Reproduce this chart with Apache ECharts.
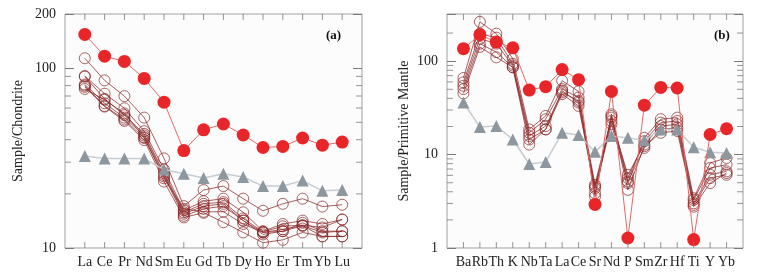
<!DOCTYPE html>
<html>
<head>
<meta charset="utf-8">
<script src="https://cdn.jsdelivr.net/npm/echarts@6/dist/echarts.min.js"></script>
<style>
  html, body { margin: 0; padding: 0; background: #fff; }
  #chart { width: 779px; height: 279px; }
</style>
</head>
<body>
<div id="chart"></div>
<script>
// (a) chondrite-normalised REE
const reeCats = ["La", "Ce", "Pr", "Nd", "Sm", "Eu", "Gd", "Tb", "Dy", "Ho", "Er", "Tm", "Yb", "Lu"];
const reeRed = [154, 116.5, 109, 87.7, 64.7, 34.8, 45.4, 48.9, 42.5, 36.2, 36.7, 40.9, 37.3, 38.8];
const reeGray = [32.5, 31.4, 31.4, 31.4, 27.3, 25.9, 24.5, 25.9, 24.8, 22.1, 22.1, 23.7, 20.8, 21.0];
const reeOpen = [
  [113.5, 85.5, 69.9, 53.1, 31.5, 17.1, 21.0, 22.1, 18.8, 16.1, 17.6, 18.8, 17.0, 17.4],
  [90.4, 72.1, 59.8, 44.6, 27.3, 16.2, 18.2, 18.8, 15.8, 12.4, 13.6, 14.2, 13.6, 14.4],
  [89.7, 67.5, 54.8, 43.1, 26.1, 15.8, 17.6, 18.0, 14.6, 12.3, 13.2, 13.4, 13.0, 14.4],
  [81.1, 63.8, 53.1, 42.2, 25.5, 15.5, 17.1, 17.6, 14.2, 12.2, 12.7, 13.3, 12.2, 12.4],
  [80.0, 61.6, 51.8, 40.9, 25.0, 15.1, 16.5, 17.1, 14.2, 11.9, 12.4, 13.3, 11.6, 11.6],
  [78.7, 61.1, 50.9, 39.8, 23.4, 14.8, 15.7, 13.9, 12.2, 10.7, 11.1, 12.2, 11.6, 11.6],
  [76.6, 66.7, 56.0, 41.3, 24.4, 16.5, 15.9, 15.9, 13.6, 12.2, 12.4, 13.8, 12.4, 12.4]
];
const reeMinorTicks = [20, 30, 40, 50, 60, 70, 80, 90];
const reeLabels = [10, 100, 200];
const reeRange = [10, 200];

// (b) primitive-mantle-normalised spider diagram
const spiderCats = ["Ba", "Rb", "Th", "K", "Nb", "Ta", "La", "Ce", "Sr", "Nd", "P", "Sm", "Zr", "Hf", "Ti", "Y", "Yb"];
const spiderRed = [136, 192, 160, 139, 49.1, 53.3, 81.3, 63.4, 2.93, 47.5, 1.28, 33.8, 52.4, 51.6, 1.23, 16.4, 18.9];
const spiderGray = [36.1, 19.7, 20.2, 14.5, 7.93, 8.33, 17.1, 16.2, 10.7, 15.8, 15.1, 14.2, 18.6, 18.6, 12.0, 10.6, 10.4];
const spiderOpen = [
  [66.1, 263.6, 197, 106, 18.6, 25.9, 61.8, 47.5, 3.55, 27.0, 4.95, 15.1, 23.9, 24.9, 3.41, 8.13, 9.20],
  [59.3, 197, 178.6, 93.6, 17.1, 23.9, 50.3, 40.9, 4.75, 24.9, 5.60, 13.9, 22.0, 22.9, 3.27, 7.18, 7.80],
  [54.6, 174, 154, 89.8, 15.8, 20.2, 46.3, 37.6, 4.55, 22.9, 6.08, 12.8, 20.2, 21.1, 3.01, 6.08, 6.61],
  [50.3, 154, 125, 86.1, 14.5, 18.6, 44.4, 33.2, 4.37, 21.1, 5.15, 11.8, 18.6, 19.4, 2.89, 5.60, 6.08],
  [45.2, 142, 110, 86.1, 12.8, 18.6, 48.2, 36.1, 3.86, 25.9, 4.19, 12.3, 17.1, 17.9, 2.77, 4.95, 6.34]
];
const spiderMinorTicks = [2, 3, 4, 5, 6, 7, 8, 9, 20, 30, 40, 50, 60, 70, 80, 90, 200];
const spiderLabels = [1, 10, 100];
const spiderRange = [1, 320];

const FONT = "Liberation Serif";
const TICK = "#7a7a7a";

const chart = echarts.init(document.getElementById("chart"));

// one empty slot each side so the first/last element sit one step in from the frame
function padded(cats) {
  return ["", ...cats, ""];
}

function xAxes(cats, gi) {
  return [
    {
      type: "category", gridIndex: gi, data: padded(cats), boundaryGap: false,
      axisLine: { show: false },
      axisTick: { show: false },
      axisLabel: { interval: 0, margin: 7, fontFamily: FONT, fontSize: 14, color: "#222" },
      splitLine: { show: false }
    },
    {
      type: "category", gridIndex: gi, position: "top", data: padded(cats), boundaryGap: false,
      show: false
    }
  ];
}

function yAxes(gi, range, labels, name, nameGap) {
  return [
    {
      type: "log", gridIndex: gi, min: range[0], max: range[1], logBase: 10,
      name: name, nameLocation: "middle", nameGap: nameGap,
      nameTextStyle: { fontFamily: FONT, fontSize: 14, color: "#222" },
      axisLine: { show: false },
      axisTick: { show: true, inside: true, length: 9, lineStyle: { color: TICK } },
      axisLabel: {
        margin: 9, fontFamily: FONT, fontSize: 14, color: "#222",
        formatter: function (v) {
          const r = Math.round(v);
          return labels.includes(r) && Math.abs(v - r) < 0.01 ? String(r) : "";
        }
      },
      splitLine: { show: false }
    },
    {
      type: "log", gridIndex: gi, min: range[0], max: range[1], logBase: 10, position: "right",
      axisLine: { show: false },
      axisTick: { show: true, inside: true, length: 9, lineStyle: { color: TICK } },
      axisLabel: { show: false },
      splitLine: { show: false }
    }
  ];
}

const tickBase = {
  type: "scatter", silent: true, z: 5, clip: false, symbol: "rect",
  itemStyle: { color: TICK }
};

// short inside ticks at 20, 30 ... on both frame sides
function minorTicks(xi, yi, lastIdx, values) {
  const left = values.map(v => [0, v]);
  const right = values.map(v => [lastIdx, v]);
  return [
    Object.assign({}, tickBase, { xAxisIndex: xi, yAxisIndex: yi, data: left, symbolSize: [6, 1], symbolOffset: [3, 0] }),
    Object.assign({}, tickBase, { xAxisIndex: xi, yAxisIndex: yi, data: right, symbolSize: [6, 1], symbolOffset: [-3, 0] })
  ];
}

// inside ticks at each element on the bottom and top frame
function catTicks(xi, yi, n, range) {
  const idx = Array.from({ length: n }, (_, i) => i + 1);
  return [
    Object.assign({}, tickBase, { xAxisIndex: xi, yAxisIndex: yi, data: idx.map(i => [i, range[0]]), symbolSize: [1, 6], symbolOffset: [0, -3] }),
    Object.assign({}, tickBase, { xAxisIndex: xi, yAxisIndex: yi, data: idx.map(i => [i, range[1]]), symbolSize: [1, 6], symbolOffset: [0, 3] })
  ];
}

function indexed(vals) {
  return vals.map((v, i) => [i + 1, v]);
}

function openSeries(xi, yi, vals) {
  return {
    type: "line", xAxisIndex: xi, yAxisIndex: yi, data: indexed(vals), z: 2,
    symbol: "circle", symbolSize: 11, showSymbol: true,
    lineStyle: { color: "rgba(140,40,40,0.75)", width: 1 },
    itemStyle: { color: "rgba(255,255,255,0)", borderColor: "rgba(135,35,35,0.7)", borderWidth: 1 }
  };
}

function graySeries(xi, yi, vals) {
  return {
    type: "line", xAxisIndex: xi, yAxisIndex: yi, data: indexed(vals), z: 3,
    symbol: "triangle", symbolSize: 12,
    lineStyle: { color: "#c6ccd1", width: 1.5 },
    itemStyle: { color: "#8d979f" }
  };
}

function redSeries(xi, yi, vals) {
  return {
    type: "line", xAxisIndex: xi, yAxisIndex: yi, data: indexed(vals), z: 4,
    symbol: "circle", symbolSize: 13,
    lineStyle: { color: "#e46a6a", width: 1 },
    itemStyle: { color: "#e8262a" }
  };
}

const series = [
  ...minorTicks(0, 0, reeCats.length + 1, reeMinorTicks),
  ...catTicks(0, 0, reeCats.length, reeRange),
  ...reeOpen.map(s => openSeries(0, 0, s)),
  graySeries(0, 0, reeGray),
  redSeries(0, 0, reeRed),
  ...minorTicks(2, 2, spiderCats.length + 1, spiderMinorTicks),
  ...catTicks(2, 2, spiderCats.length, spiderRange),
  ...spiderOpen.map(s => openSeries(2, 2, s)),
  graySeries(2, 2, spiderGray),
  redSeries(2, 2, spiderRed)
];

const option = {
  animation: false,
  backgroundColor: "#fff",
  grid: [
    { left: 65, right: 417, top: 14, bottom: 31, show: true, backgroundColor: "#fcfcfc", borderColor: "#a0a0a0", borderWidth: 1 },
    { left: 447, right: 36, top: 14, bottom: 31, show: true, backgroundColor: "#fcfcfc", borderColor: "#a0a0a0", borderWidth: 1 }
  ],
  xAxis: [...xAxes(reeCats, 0), ...xAxes(spiderCats, 1)],
  yAxis: [
    ...yAxes(0, reeRange, reeLabels, "Sample/Chondrite", 40),
    ...yAxes(1, spiderRange, spiderLabels, "Sample/Primitive Mantle", 36)
  ],
  graphic: [
    { type: "text", left: 326, top: 29, style: { text: "(a)", font: "bold 13px " + FONT, fill: "#111" } },
    { type: "text", left: 714, top: 29, style: { text: "(b)", font: "bold 13px " + FONT, fill: "#111" } }
  ],
  series: series
};

chart.setOption(option);
window.addEventListener("resize", () => chart.resize());
</script>
</body>
</html>
